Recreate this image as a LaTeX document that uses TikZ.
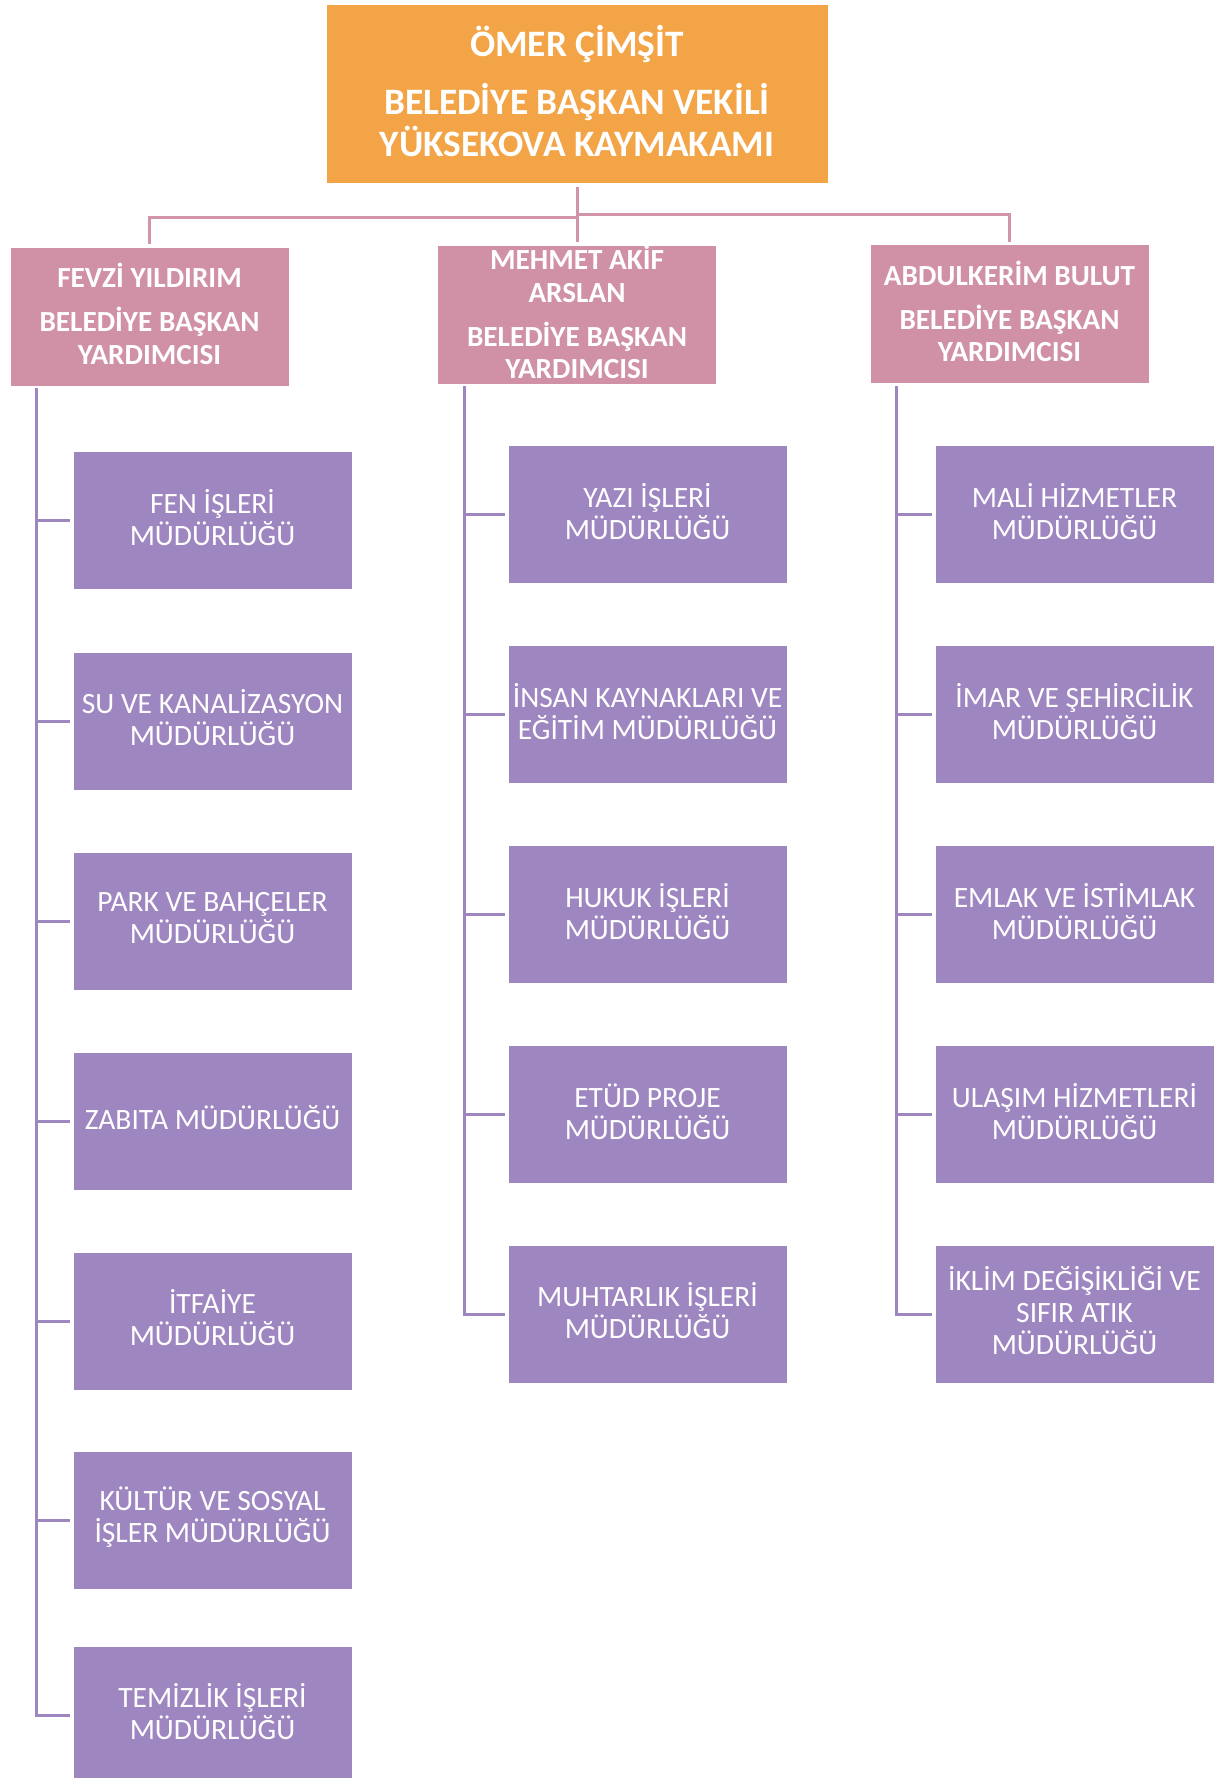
\documentclass[tikz,border=0pt]{standalone}
\usepackage{fontspec}
\setmainfont{Carlito}
\definecolor{orangeC}{HTML}{F3A447}
\definecolor{pinkC}{HTML}{D091A6}
\definecolor{pinkL}{HTML}{D194A9}
\definecolor{purpC}{HTML}{9E86C1}
\tikzset{
  topbox/.style={fill=orangeC, draw=white, line width=0.8pt, minimum width=502pt, minimum height=179pt, inner sep=0pt},
  toptext/.style={text=white, align=center, inner sep=0pt, font=\fontsize{37.3}{42}\selectfont\bfseries},
  vpbox/.style={fill=pinkC, draw=white, line width=0.8pt, minimum width=279pt, minimum height=139pt, inner sep=0pt},
  vptext/.style={text=white, align=center, inner sep=0pt, font=\fontsize{29.2}{32.5}\selectfont\bfseries},
  unitbox/.style={fill=purpC, draw=white, line width=0.8pt, minimum width=279pt, minimum height=138pt, inner sep=0pt},
  unittext/.style={text=white, align=center, inner sep=0pt, font=\fontsize{29.5}{32}\selectfont},
  pinkline/.style={draw=pinkL, line width=3pt},
  purpline/.style={draw=purpC, line width=3pt},
}
% box node (named #2) at #3 with its text (named #2t) raised a little
\newcommand\orgbox[5][3pt]{%
  \node[#2box] (#3) at (#4) {};
  \node[#2text] (#3t) at ([yshift=#1]#3.center) {#5};}
\begin{document}
\begin{tikzpicture}[x=1pt,y=-1pt]
\useasboundingbox[fill=white] (0,0) rectangle (1215,1778);

% top
\orgbox[2pt]{top}{top}{577,93.5}{ÖMER ÇİMŞİT\\[16pt]BELEDİYE BAŞKAN VEKİLİ\\YÜKSEKOVA KAYMAKAMI}

% vice mayors
\orgbox[2.5pt]{vp}{vpL}{149.5,316.5}{FEVZİ YILDIRIM\\[11.5pt]BELEDİYE BAŞKAN\\YARDIMCISI}
\orgbox[2.5pt]{vp}{vpM}{577,314.5}{MEHMET AKİF\\ARSLAN\\[11.5pt]BELEDİYE BAŞKAN\\YARDIMCISI}
\orgbox[2.5pt]{vp}{vpR}{1009.5,314}{ABDULKERİM BULUT\\[11.5pt]BELEDİYE BAŞKAN\\YARDIMCISI}

% connectors top level
\coordinate (busL) at (577,217);
\coordinate (busR) at (577,214);
\draw[pinkline] ([yshift=-4pt]top.south) -- ([yshift=3pt]vpM.north);
\draw[pinkline] (busL) -| ([yshift=3pt]vpL.north);
\draw[pinkline] (busR) -| ([yshift=2pt]vpR.north);

% left column
\orgbox{unit}{uL1}{212.5,520.5}{FEN İŞLERİ\\MÜDÜRLÜĞÜ}
\orgbox{unit}{uL2}{212.5,721}{SU VE KANALİZASYON\\MÜDÜRLÜĞÜ}
\orgbox{unit}{uL3}{212.5,921}{PARK VE BAHÇELER\\MÜDÜRLÜĞÜ}
\orgbox{unit}{uL4}{212.5,1121}{ZABITA MÜDÜRLÜĞÜ}
\orgbox{unit}{uL5}{212.5,1321}{İTFAİYE\\MÜDÜRLÜĞÜ}
\orgbox{unit}{uL6}{212.5,1520.5}{KÜLTÜR VE SOSYAL\\İŞLER MÜDÜRLÜĞÜ}
\orgbox{unit}{uL7}{212.5,1715}{TEMİZLİK İŞLERİ\\MÜDÜRLÜĞÜ}

% middle column
\orgbox{unit}{uM1}{647.5,514.5}{YAZI İŞLERİ\\MÜDÜRLÜĞÜ}
\orgbox{unit}{uM2}{647.5,714.5}{İNSAN KAYNAKLARI VE\\EĞİTİM MÜDÜRLÜĞÜ}
\orgbox{unit}{uM3}{647.5,914.5}{HUKUK İŞLERİ\\MÜDÜRLÜĞÜ}
\orgbox{unit}{uM4}{647.5,1114.5}{ETÜD PROJE\\MÜDÜRLÜĞÜ}
\orgbox{unit}{uM5}{647.5,1314}{MUHTARLIK İŞLERİ\\MÜDÜRLÜĞÜ}

% right column
\orgbox{unit}{uR1}{1074.5,514.5}{MALİ HİZMETLER\\MÜDÜRLÜĞÜ}
\orgbox{unit}{uR2}{1074.5,714.5}{İMAR VE ŞEHİRCİLİK\\MÜDÜRLÜĞÜ}
\orgbox{unit}{uR3}{1074.5,914.5}{EMLAK VE İSTİMLAK\\MÜDÜRLÜĞÜ}
\orgbox{unit}{uR4}{1074.5,1114.5}{ULAŞIM HİZMETLERİ\\MÜDÜRLÜĞÜ}
\orgbox{unit}{uR5}{1074.5,1314}{İKLİM DEĞİŞİKLİĞİ VE\\SIFIR ATIK\\MÜDÜRLÜĞÜ}

% trunks
\coordinate (tL) at ([xshift=27pt,yshift=-2pt]vpL.south west);
\coordinate (tM) at ([xshift=27pt,yshift=-2pt]vpM.south west);
\coordinate (tR) at ([xshift=27pt,yshift=-2pt]vpR.south west);

\draw[purpline] (tL) |- ([xshift=-3pt]uL7.west);
\foreach \i in {1,...,6} {\draw[purpline] ([xshift=-3pt]uL\i.west) -- (uL\i.west -| tL);}

\draw[purpline] (tM) |- ([xshift=-3pt]uM5.west);
\foreach \i in {1,...,4} {\draw[purpline] ([xshift=-3pt]uM\i.west) -- (uM\i.west -| tM);}

\draw[purpline] (tR) |- ([xshift=-3pt]uR5.west);
\foreach \i in {1,...,4} {\draw[purpline] ([xshift=-3pt]uR\i.west) -- (uR\i.west -| tR);}
\end{tikzpicture}
\end{document}
